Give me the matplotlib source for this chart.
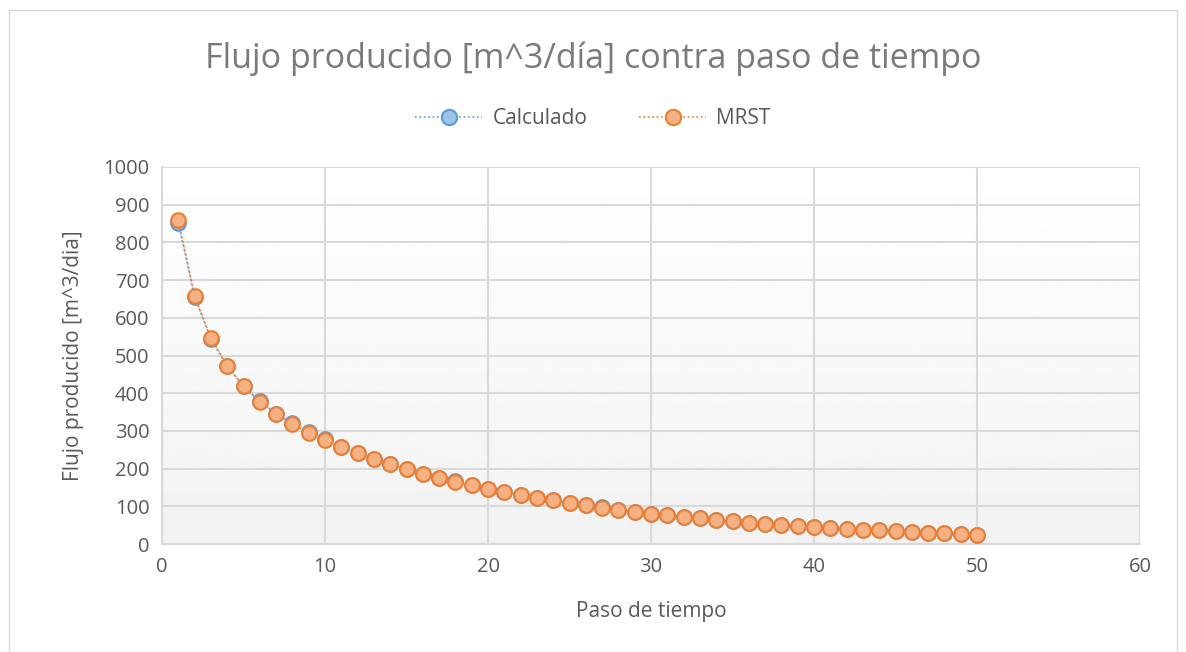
import numpy as np
import matplotlib
matplotlib.use("Agg")
import matplotlib.pyplot as plt
from matplotlib.patches import Rectangle

plt.rcParams['font.family'] = ['Open Sans', 'DejaVu Sans']

# data
pasos = list(range(1, 51))
mrst = [860, 658, 546, 472, 419, 377, 345, 318, 295, 276,
        257, 241, 225, 212, 199, 186, 175, 164, 156, 146,
        138, 130, 122, 117, 109, 103, 96, 90, 85, 80,
        76, 72, 68, 64, 60, 57, 54, 51, 48, 45,
        42, 40, 38, 36, 34, 32, 30, 28, 26, 24]
calculado = [852, 656, 544, 471, 419, 378, 346, 320, 296, 278,
             258, 242, 226, 213, 200, 187, 176, 166, 157, 147,
             139, 131, 123, 117, 110, 104, 97, 91, 86, 80,
             76, 72, 68, 64, 60, 57, 54, 51, 48, 45,
             42, 40, 38, 36, 34, 32, 30, 28, 26, 24]

grey = '#595959'

fig = plt.figure(figsize=(11.86, 6.52), dpi=100)
fig.patches.append(Rectangle((9 / 1186, -5 / 652), 1168 / 1186, 647 / 652,
                             transform=fig.transFigure, fill=False,
                             edgecolor='#d9d9d9', linewidth=1))

ax = fig.add_axes([162 / 1186, 108 / 652, 978 / 1186, 377 / 652])

# soft gradient background in the plot area
grad = np.linspace(1.0, 0.95, 256).reshape(-1, 1)
ax.imshow(grad, extent=[0, 1, 0, 1], transform=ax.transAxes, cmap='gray',
          vmin=0, vmax=1, aspect='auto', zorder=0)

ax.plot(pasos, calculado, linestyle=':', color='#5b9bd5', linewidth=1.2,
        marker='o', markersize=10.5, markerfacecolor='#9dc3e6',
        markeredgecolor='#5b9bd5', markeredgewidth=1.5, label='Calculado', zorder=3)
ax.plot(pasos, mrst, linestyle=':', color='#ed7d31', linewidth=1.2,
        marker='o', markersize=10.5, markerfacecolor='#f4b183',
        markeredgecolor='#ed7d31', markeredgewidth=1.5, label='MRST', zorder=4)

ax.set_xlim(0, 60)
ax.set_ylim(0, 1000)
ax.set_xticks(range(0, 61, 10))
ax.set_yticks(range(0, 1001, 100))
ax.grid(True, color='#d9d9d9', linewidth=1.5, zorder=1)
ax.set_axisbelow(True)
for s in ['top', 'right']:
    ax.spines[s].set_visible(False)
for s in ['left', 'bottom']:
    ax.spines[s].set_color('#d9d9d9')
    ax.spines[s].set_linewidth(1.5)
ax.tick_params(length=0, labelsize=14.5, labelcolor=grey, pad=9)

ax.set_xlabel('Paso de tiempo', fontsize=15, color=grey, labelpad=18)
ax.set_ylabel('Flujo producido [m^3/dia]', fontsize=15, color=grey, labelpad=14)

fig.text(0.5, 0.91, 'Flujo producido [m^3/día] contra paso de tiempo',
         ha='center', va='center', fontsize=24.5, color='#7a7a7a')
leg = fig.legend(loc='center', bbox_to_anchor=(0.5, 0.818), ncol=2, frameon=False,
                 fontsize=15, labelcolor=grey, columnspacing=2.5, handlelength=3.2,
                 handletextpad=0.5, markerscale=1.05)

fig.savefig('out.png', dpi=100)
